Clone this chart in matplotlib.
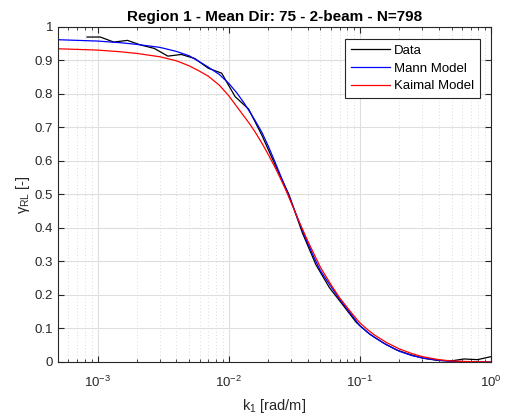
import matplotlib
matplotlib.use("Agg")
import matplotlib.pyplot as plt
from matplotlib.ticker import LogLocator, FixedLocator, NullFormatter

plt.rcParams['font.family'] = ['Liberation Sans', 'DejaVu Sans']
plt.rcParams['mathtext.fontset'] = 'custom'
plt.rcParams['mathtext.rm'] = 'Liberation Sans'
plt.rcParams['mathtext.it'] = 'Liberation Sans'

# measured coherence (black)
k_data = [8.32e-4, 1.05e-3, 1.33e-3, 1.69e-3, 2.14e-3, 2.71e-3, 3.44e-3, 4.35e-3,
          5.51e-3, 6.98e-3, 8.85e-3, 1.12e-2, 1.42e-2, 1.80e-2, 2.28e-2, 2.88e-2,
          3.65e-2, 4.63e-2, 5.86e-2, 7.43e-2, 9.40e-2, 0.119, 0.151, 0.191,
          0.242, 0.307, 0.388, 0.492, 0.623, 0.789, 1.0]
coh_data = [0.970, 0.970, 0.955, 0.960, 0.946, 0.936, 0.913, 0.918,
            0.906, 0.877, 0.862, 0.792, 0.755, 0.675, 0.585, 0.500,
            0.385, 0.290, 0.222, 0.170, 0.118, 0.083, 0.057, 0.036,
            0.022, 0.011, 0.005, 0.003, 0.009, 0.007, 0.016]

# model curves
k_model = [5e-4, 1e-3, 1.5e-3, 2e-3, 3e-3, 4e-3, 5e-3, 6e-3, 7e-3, 8.5e-3,
           1e-2, 1.15e-2, 1.3e-2, 1.45e-2, 1.6e-2, 1.8e-2, 2e-2, 2.25e-2, 2.5e-2, 2.75e-2,
           3e-2, 3.5e-2, 4e-2, 4.5e-2, 5e-2, 6e-2, 7e-2, 8e-2, 9e-2, 0.1,
           0.115, 0.13, 0.16, 0.2, 0.25, 0.3, 0.4, 0.5, 0.7, 1.0]
coh_mann = [0.962, 0.958, 0.953, 0.948, 0.939, 0.927, 0.914, 0.896, 0.880, 0.858,
            0.832, 0.804, 0.775, 0.746, 0.719, 0.684, 0.645, 0.598, 0.554, 0.514,
            0.478, 0.410, 0.355, 0.310, 0.273, 0.226, 0.188, 0.158, 0.132, 0.108,
            0.088, 0.073, 0.051, 0.032, 0.019, 0.012, 0.005, 0.002, 0.0005, 0.0]
coh_kaimal = [0.935, 0.931, 0.926, 0.921, 0.911, 0.899, 0.884, 0.868, 0.853, 0.826,
              0.795, 0.763, 0.735, 0.710, 0.685, 0.652, 0.620, 0.582, 0.545, 0.510,
              0.475, 0.413, 0.362, 0.320, 0.283, 0.232, 0.192, 0.163, 0.138, 0.117,
              0.096, 0.080, 0.058, 0.039, 0.025, 0.016, 0.007, 0.003, 0.001, 0.0]

title = 'Region 1 - Mean Dir: 75 - 2-beam - N=798'

fig = plt.figure(figsize=(5.05, 4.17), dpi=100)
ax = fig.add_axes([0.1149, 0.1319, 0.8574, 0.8034])

ax.semilogx(k_data, coh_data, color='k', lw=0.9, label='Data')
ax.semilogx(k_model, coh_mann, color='b', lw=0.9, label='Mann Model')
ax.semilogx(k_model, coh_kaimal, color='r', lw=0.9, label='Kaimal Model')

ax.set_xlim(5e-4, 1)
ax.set_ylim(0, 1)
ax.yaxis.set_major_locator(FixedLocator([i / 10 for i in range(11)]))
ax.set_yticklabels(['0', '0.1', '0.2', '0.3', '0.4', '0.5', '0.6', '0.7', '0.8', '0.9', '1'])
ax.xaxis.set_major_locator(FixedLocator([1e-3, 1e-2, 1e-1, 1]))
ax.set_xticklabels(['$10^{-3}$', '$10^{-2}$', '$10^{-1}$', '$10^{0}$'])
ax.xaxis.set_minor_locator(LogLocator(base=10, subs=range(2, 10)))
ax.xaxis.set_minor_formatter(NullFormatter())

gc = '#262626'
ax.grid(True, which='major', color='#dedede', lw=0.8)
ax.grid(True, which='minor', axis='x', color='#cfcfcf', lw=0.6, ls=(0, (1, 3)))
ax.set_axisbelow(True)
ax.tick_params(which='both', direction='in', top=True, right=True, colors=gc,
               labelsize=9.5, labelcolor=gc)
ax.tick_params(which='major', length=4, width=0.8)
ax.tick_params(which='minor', length=2.5, width=0.6)
ax.tick_params(axis='x', pad=9)
for s in ax.spines.values():
    s.set_color(gc)
    s.set_linewidth(0.8)

ax.set_title(title, fontsize=11, fontweight='bold', color='k', pad=4)
ax.set_xlabel('k$_1$ [rad/m]', fontsize=10.5, color=gc, labelpad=5)
ax.set_ylabel(r'$\gamma_{RL}$ [-]', fontsize=10.5, color=gc, labelpad=2)

leg = ax.legend(loc='upper right', bbox_to_anchor=(0.975, 0.965), fontsize=9.5,
                fancybox=False, framealpha=1, edgecolor=gc, handlelength=3.0,
                handletextpad=0.3, borderpad=0.45, labelspacing=0.42, borderaxespad=0)
leg.get_frame().set_linewidth(0.8)

fig.savefig('out.png', dpi=100)
